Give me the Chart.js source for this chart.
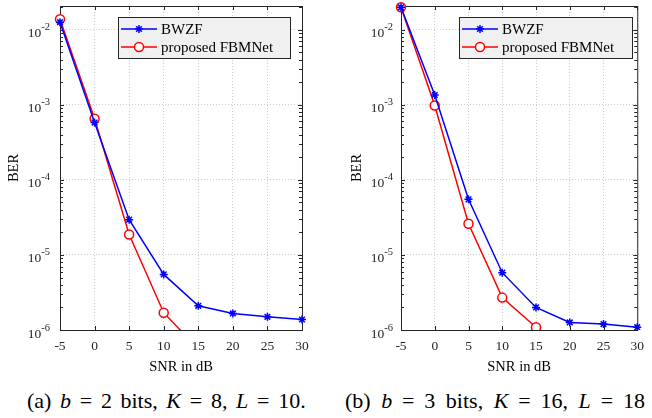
<!DOCTYPE html>
<html><head><meta charset="utf-8">
<script src="https://cdn.jsdelivr.net/npm/chart.js@4/dist/chart.umd.min.js"></script>
<style>
html,body{margin:0;padding:0;background:#fff;width:652px;height:418px;overflow:hidden;font-family:"Liberation Serif",serif;}
.wrap{position:absolute;top:0;width:326px;height:380px;}
.cap{position:absolute;top:388px;font-size:22px;line-height:26px;color:#000;white-space:nowrap;font-family:"Liberation Serif",serif;word-spacing:3px;}
.cap i{font-style:italic;}
.cap .eq{margin:0 .4em;}
#capb{word-spacing:5px;}
#capb .eq{margin:0 .45em;}
</style></head><body>
<div class="wrap" style="left:0"><canvas id="c1" width="326" height="380"></canvas></div>
<div class="wrap" style="left:326px"><canvas id="c2" width="326" height="380"></canvas></div>
<div class="cap" style="left:27px">(a) <i>b</i><span class="eq">=</span>2 bits, <i>K</i><span class="eq">=</span>8, <i>L</i><span class="eq">=</span>10.</div>
<div class="cap" id="capb" style="left:345px">(b) <i>b</i><span class="eq">=</span>3 bits, <i>K</i><span class="eq">=</span>16, <i>L</i><span class="eq">=</span>18</div>
<script>
// ---- data ----
const snr = [-5, 0, 5, 10, 15, 20, 25, 30];
const snrFBM = [-5, 0, 5, 10, 15];
const bwzfA = [0.0126, 5.8e-4, 2.95e-5, 5.5e-6, 2.1e-6, 1.66e-6, 1.5e-6, 1.38e-6];
const fbmA  = [0.0138, 6.5e-4, 1.87e-5, 1.7e-6, 5.6e-7];
const bwzfB = [0.0199, 1.35e-3, 5.5e-5, 5.8e-6, 2.0e-6, 1.26e-6, 1.2e-6, 1.09e-6];
const fbmB  = [0.0199, 9.8e-4, 2.6e-5, 2.7e-6, 1.09e-6];
const xTicks = [-5, 0, 5, 10, 15, 20, 25, 30];
const yTicks = [1e-6, 1e-5, 1e-4, 1e-3, 1e-2];
const yTickExp = ['-6', '-5', '-4', '-3', '-2'];
const seriesNames = ['BWZF', 'proposed FBMNet'];
const xTitle = 'SNR in dB';
const yTitle = 'BER';

const AX = '#262626';
const BLUE = '#0000ff', RED = '#ff0000';
const YMIN = 1e-6, YMAX = 0.0207;

function makeDeco(cfg){
  return {
    id: 'deco',
    beforeDatasetsDraw(chart){
      const ctx = chart.ctx, a = chart.chartArea, x = chart.scales.x, y = chart.scales.y;
      ctx.save();
      ctx.strokeStyle = AX; ctx.lineWidth = 1;
      ctx.beginPath();
      xTicks.forEach(v => {
        const px = Math.round(x.getPixelForValue(v)) + 0.5;
        ctx.moveTo(px, a.bottom); ctx.lineTo(px, a.bottom - 4);
        ctx.moveTo(px, a.top); ctx.lineTo(px, a.top + 4);
      });
      for (let d = -6; d <= -2; d++) {
        for (let m = 1; m <= 9; m++) {
          const v = m * Math.pow(10, d);
          if (v > YMAX) break;
          const py = Math.round(y.getPixelForValue(v)) + 0.5;
          const len = m === 1 ? 4 : 3;
          ctx.moveTo(a.left, py); ctx.lineTo(a.left + len, py);
          ctx.moveTo(a.right, py); ctx.lineTo(a.right - len, py);
        }
      }
      ctx.stroke();
      ctx.strokeRect(a.left + 0.5, a.top + 0.5, a.right - a.left, a.bottom - a.top);
      ctx.restore();
    },
    afterDatasetsDraw(chart){
      const ctx = chart.ctx;
      ctx.save();
      const L = cfg.legend;
      ctx.fillStyle = '#f0f0f0';
      ctx.fillRect(L.x, L.y, L.w, L.h);
      ctx.strokeStyle = AX; ctx.lineWidth = 1;
      ctx.strokeRect(L.x + 0.5, L.y + 0.5, L.w, L.h);
      const rows = [L.y + 12, L.y + 30];
      const styles = [
        {color: BLUE, pointStyle: 'star', radius: 4, bg: BLUE},
        {color: RED, pointStyle: 'circle', radius: 4.5, bg: '#ffffff'}
      ];
      ctx.font = '15px "Liberation Serif"';
      ctx.textBaseline = 'middle';
      rows.forEach((ry, i) => {
        const s = styles[i];
        ctx.strokeStyle = s.color; ctx.lineWidth = 1.5;
        ctx.beginPath(); ctx.moveTo(L.x + 3, ry); ctx.lineTo(L.x + 39, ry); ctx.stroke();
        ctx.fillStyle = s.bg;
        Chart.helpers.drawPoint(ctx, {pointStyle: s.pointStyle, radius: s.radius, rotation: 0, borderWidth: 1.5}, L.x + 21, ry);
        ctx.fillStyle = '#000';
        ctx.fillText(seriesNames[i], L.x + 43, ry + 1);
      });
      ctx.restore();
    },
    afterDraw(chart){
      const ctx = chart.ctx, a = chart.chartArea, y = chart.scales.y;
      ctx.save();
      ctx.fillStyle = AX;
      yTicks.forEach((v, i) => {
        const py = y.getPixelForValue(v);
        ctx.font = '10.5px "Liberation Serif"';
        ctx.textBaseline = 'alphabetic';
        ctx.textAlign = 'right';
        const expX = a.left - cfg.labGap;
        ctx.fillText(yTickExp[i], expX, py + 0.5);
        const ew = ctx.measureText(yTickExp[i]).width;
        ctx.font = '13.5px "Liberation Serif"';
        ctx.fillText('10', expX - ew, py + 7.5);
      });
      ctx.fillStyle = '#000';
      ctx.font = '14.5px "Liberation Serif"';
      ctx.textAlign = 'center'; ctx.textBaseline = 'middle';
      ctx.fillText(xTitle, (a.left + a.right) / 2, 367);
      ctx.translate(cfg.yTitleX, (a.top + a.bottom) / 2);
      ctx.rotate(-Math.PI / 2);
      ctx.fillText(yTitle, 0, 0);
      ctx.restore();
    }
  };
}

function makeChart(id, bw, fb, cfg){
  const ds = (label, xs, ys, color, style, radius, bg) => ({
    label, data: xs.map((v, i) => ({x: v, y: ys[i]})),
    borderColor: color, backgroundColor: bg, borderWidth: 1.5,
    pointStyle: style, pointRadius: radius, pointBorderWidth: 1.5,
    pointBorderColor: color, pointBackgroundColor: bg,
    clip: {left: 8, top: 8, right: 8, bottom: 0}, tension: 0
  });
  return new Chart(document.getElementById(id), {
    type: 'line',
    data: {datasets: [
      ds(seriesNames[0], snr, bw, BLUE, 'star', 4, BLUE),
      ds(seriesNames[1], snrFBM, fb, RED, 'circle', 4.5, '#ffffff')
    ]},
    options: {
      responsive: false, animation: false, devicePixelRatio: 1,
      layout: {padding: {top: 5, right: cfg.padRight, left: 0, bottom: 0}},
      plugins: {legend: {display: false}, tooltip: {enabled: false}},
      scales: {
        x: {
          type: 'linear', min: -5, max: 30,
          afterBuildTicks: s => { s.ticks = xTicks.map(v => ({value: v})); },
          afterFit: s => { s.height = 50; },
          grid: {color: 'rgba(0,0,0,0.2)', drawTicks: false, lineWidth: 1},
          border: {display: false, dash: [1, 2]},
          ticks: {color: AX, font: {family: 'Liberation Serif', size: 13.5}, padding: 8, maxRotation: 0, autoSkip: false}
        },
        y: {
          type: 'logarithmic', min: YMIN, max: YMAX,
          afterBuildTicks: s => { s.ticks = yTicks.map(v => ({value: v})); },
          afterFit: s => { s.width = cfg.yWidth; },
          grid: {color: 'rgba(0,0,0,0.2)', drawTicks: false, lineWidth: 1},
          border: {display: false, dash: [1, 2]},
          ticks: {display: false}
        }
      }
    },
    plugins: [makeDeco(cfg)]
  });
}

makeChart('c1', bwzfA, fbmA, {padRight: 24, yWidth: 60, labGap: 10, yTitleX: 14,
  legend: {x: 118, y: 17, w: 172, h: 41}});
makeChart('c2', bwzfB, fbmB, {padRight: 9, yWidth: 75, labGap: 8, yTitleX: 31,
  legend: {x: 133, y: 17, w: 173, h: 41}});
</script>
</body></html>
